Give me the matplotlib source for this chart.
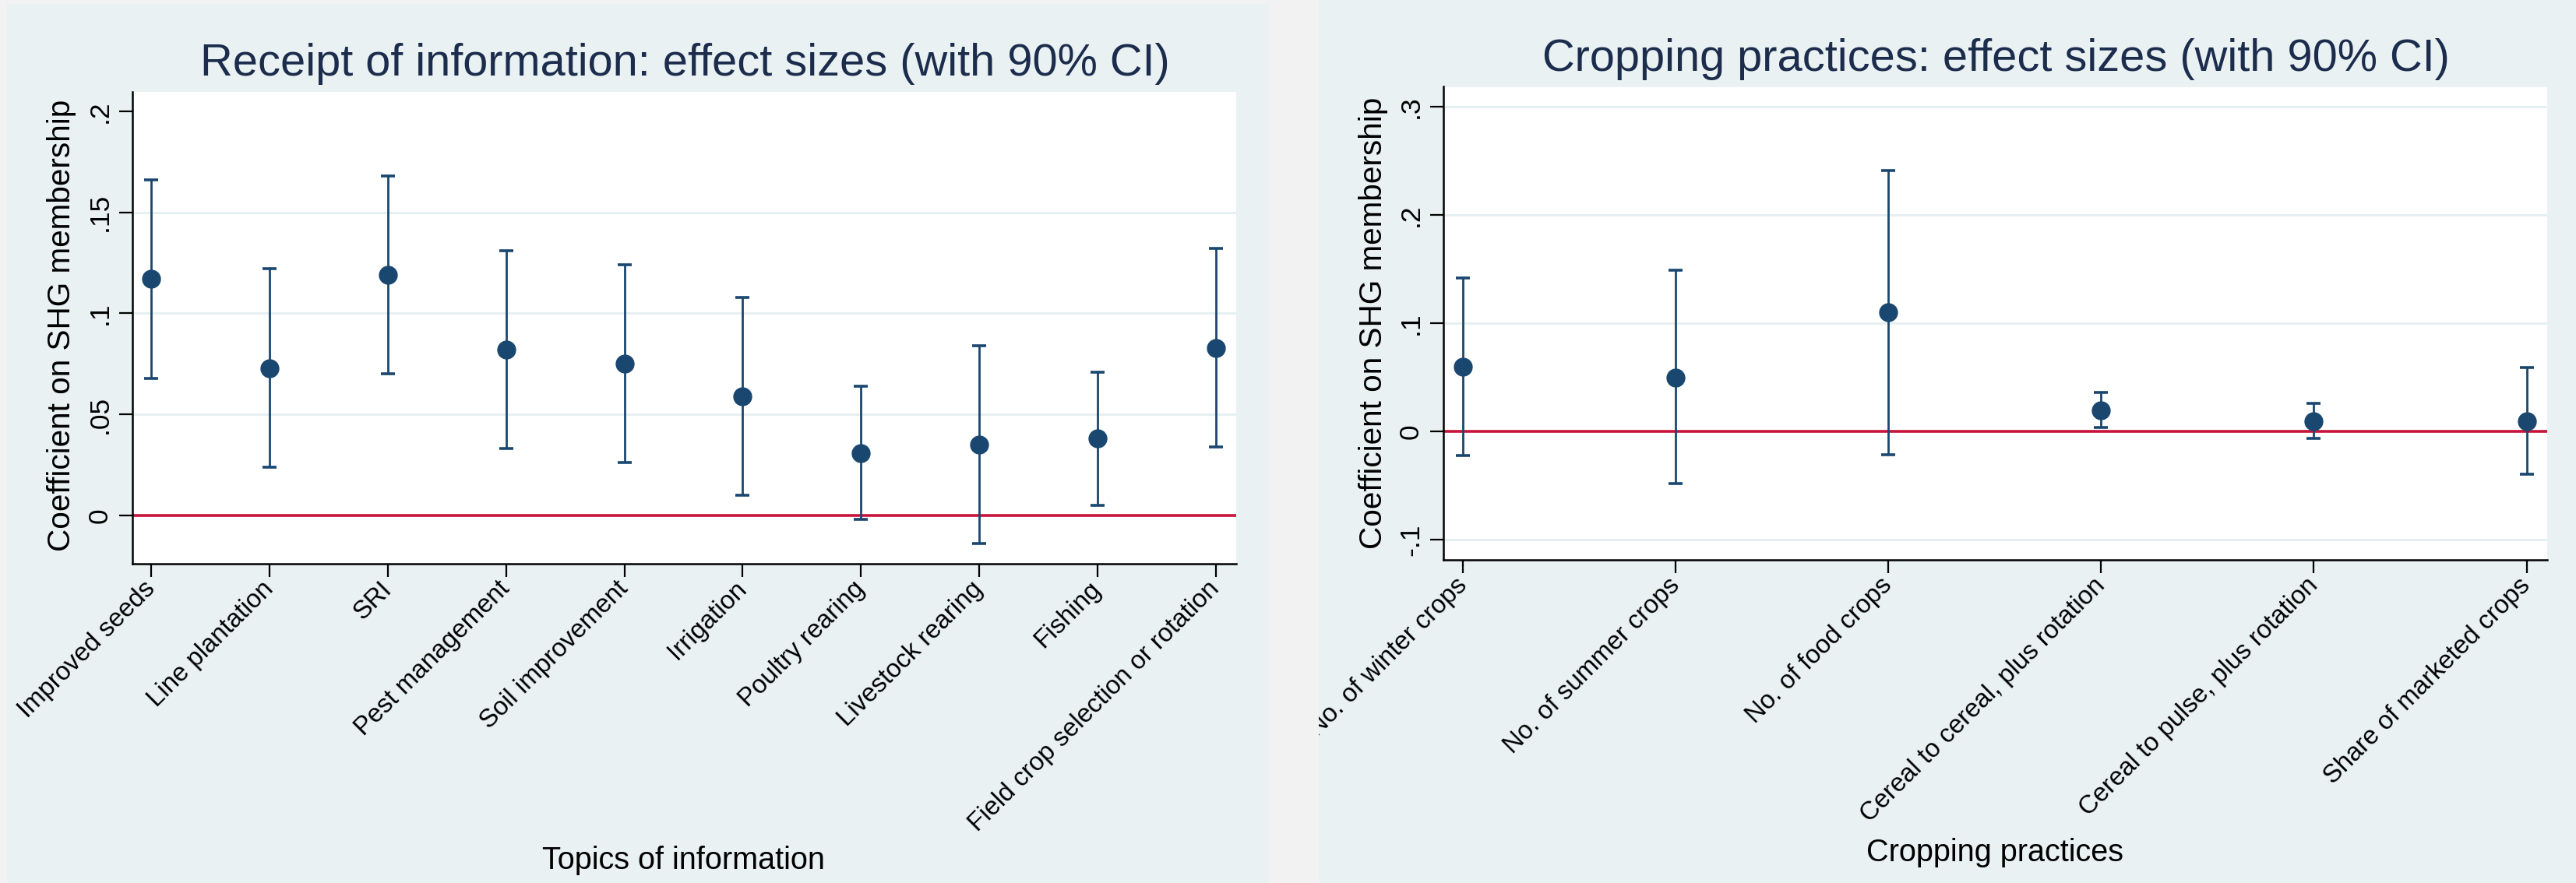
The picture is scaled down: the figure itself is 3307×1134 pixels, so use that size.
import matplotlib
matplotlib.use("Agg")
import matplotlib.pyplot as plt
from matplotlib.patches import Rectangle
import numpy as np

# ---------------- data ----------------
info_topics = ["Improved seeds", "Line plantation", "SRI", "Pest management",
               "Soil improvement", "Irrigation", "Poultry rearing",
               "Livestock rearing", "Fishing", "Field crop selection or rotation"]
info_coef = [0.117, 0.073, 0.119, 0.082, 0.075, 0.059, 0.031, 0.035, 0.038, 0.083]
info_lo = [0.068, 0.024, 0.070, 0.033, 0.026, 0.010, -0.002, -0.014, 0.005, 0.034]
info_hi = [0.166, 0.122, 0.168, 0.131, 0.124, 0.108, 0.064, 0.084, 0.071, 0.132]
info_yticks = [0, 0.05, 0.1, 0.15, 0.2]
info_yticklabels = ["0", ".05", ".1", ".15", ".2"]

crop_practices = ["No. of winter crops", "No. of summer crops", "No. of food crops",
                  "Cereal to cereal, plus rotation", "Cereal to pulse, plus rotation",
                  "Share of marketed crops"]
crop_coef = [0.060, 0.050, 0.110, 0.020, 0.010, 0.010]
crop_lo = [-0.022, -0.048, -0.021, 0.004, -0.006, -0.039]
crop_hi = [0.142, 0.149, 0.241, 0.036, 0.026, 0.059]
crop_yticks = [-0.1, 0, 0.1, 0.2, 0.3]
crop_yticklabels = ["-.1", "0", ".1", ".2", ".3"]

# ---------------- style ----------------
W, H = 3307, 1134
DPI = 100
plt.rcParams['font.family'] = ['Liberation Sans', 'DejaVu Sans']
fig = plt.figure(figsize=(W / DPI, H / DPI), dpi=DPI)
fig.patch.set_facecolor("#f2f2f2")

BG = "#e9f1f3"
NAVY = "#1a476f"
RED = "#c8143c"
GRID = "#e6eff1"
TITLE_C = "#1c2c4c"


def fx(px):
    return px / W


def fy(py):
    return 1 - py / H


# panel backgrounds
left_bg = Rectangle((fx(9), 0), fx(1629) - fx(9), fy(5), transform=fig.transFigure,
                    facecolor=BG, edgecolor="none", zorder=-10)
right_bg = Rectangle((fx(1693), 0), 1 - fx(1693), 1, transform=fig.transFigure,
                     facecolor=BG, edgecolor="none", zorder=-10)
fig.patches.append(left_bg)
fig.patches.append(right_bg)


def make_panel(box, labels, coef, lo, hi, yticks, yticklabels, ylim, xlim, grid_ticks, clip=None):
    x0, y0, x1, y1 = box
    ax = fig.add_axes([fx(x0), fy(y1), fx(x1) - fx(x0), (y1 - y0) / H])
    ax.set_zorder(5)
    ax.set_facecolor("white")
    xs = np.arange(1, len(labels) + 1)
    coef = np.array(coef)
    err = np.vstack([coef - np.array(lo), np.array(hi) - coef])
    for g in grid_ticks:
        ax.axhline(g, color=GRID, lw=2.2, zorder=1)
    ax.axhline(0, color=RED, lw=2.6, zorder=2)
    ax.errorbar(xs, coef, yerr=err, fmt="o", color=NAVY, ecolor=NAVY, elinewidth=2.0,
                capsize=6.5, capthick=2.6, markersize=16.5, zorder=3)
    ax.set_xlim(*xlim)
    ax.set_ylim(*ylim)
    ax.set_yticks(yticks)
    ax.set_yticklabels(yticklabels, rotation=90, va="center", fontsize=25.5)
    ax.set_xticks(xs)
    ax.set_xticklabels(labels, rotation=45, ha="right", va="center",
                       rotation_mode="anchor", fontsize=23.7)
    for s in ["top", "right"]:
        ax.spines[s].set_visible(False)
    for s in ["left", "bottom"]:
        ax.spines[s].set_linewidth(1.8)
    ax.tick_params(axis="both", length=12, width=1.6, color="black")
    ax.tick_params(axis="y", pad=6)
    ax.tick_params(axis="x", pad=8)
    if clip is not None:
        for t in ax.get_xticklabels():
            t.set_clip_path(clip)
            t.set_clip_on(True)
    return ax


ax1 = make_panel((169.5, 117.5, 1587, 724), info_topics, info_coef, info_lo, info_hi,
                 info_yticks, info_yticklabels, (-0.0239, 0.2098), (0.837, 10.174),
                 [0.05, 0.1, 0.15])
clip_rect = Rectangle((fx(1693), 0), 1 - fx(1693), 1, transform=fig.transFigure,
                      facecolor="none", edgecolor="none")
ax2 = make_panel((1853, 111.5, 3270, 719.3), crop_practices, crop_coef, crop_lo, crop_hi,
                 crop_yticks, crop_yticklabels, (-0.1186, 0.3186), (0.907, 6.097),
                 [-0.1, 0.1, 0.2, 0.3], clip=clip_rect)

# titles
fig.text(fx(879), fy(82), "Receipt of information: effect sizes (with 90% CI)",
         ha="center", va="center", fontsize=41.6, color=TITLE_C)
fig.text(fx(2562), fy(76), "Cropping practices: effect sizes (with 90% CI)",
         ha="center", va="center", fontsize=41.6, color=TITLE_C)

# axis titles
fig.text(fx(79), fy(418), "Coefficient on SHG membership", rotation=90,
         ha="center", va="center", fontsize=29.2, color="black")
fig.text(fx(1763), fy(415), "Coefficient on SHG membership", rotation=90,
         ha="center", va="center", fontsize=29.2, color="black")
fig.text(fx(878), fy(1105), "Topics of information", ha="center", va="center",
         fontsize=28.5, color="black")
fig.text(fx(2561), fy(1095), "Cropping practices", ha="center", va="center",
         fontsize=28.5, color="black")

fig.savefig("out.png", dpi=DPI, facecolor=fig.get_facecolor())
